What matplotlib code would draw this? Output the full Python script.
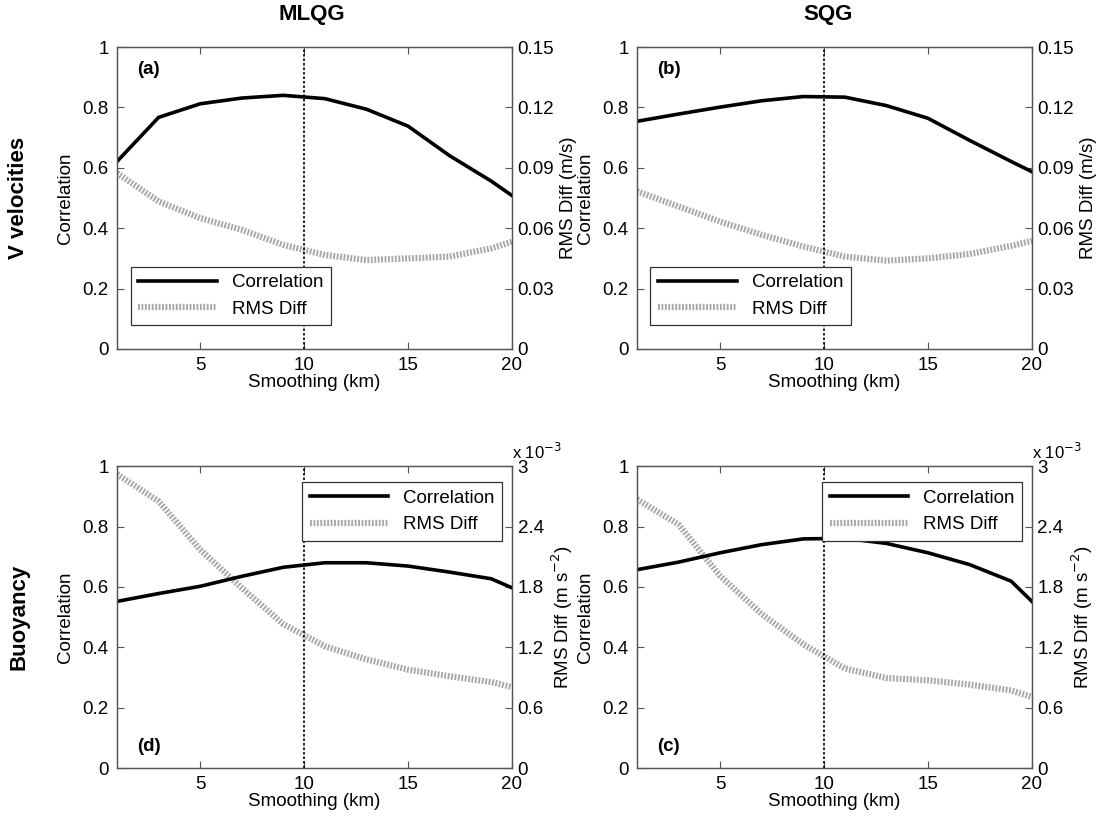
import numpy as np
import matplotlib.pyplot as plt

plt.rcParams['font.family'] = ['Liberation Sans', 'DejaVu Sans']

# smoothing scale (km)
smoothing = [1, 3, 5, 7, 9, 11, 13, 15, 17, 19, 20]

# (a) MLQG, V velocities
corr_a = [0.621, 0.767, 0.812, 0.831, 0.840, 0.829, 0.794, 0.738, 0.640, 0.556, 0.508]
rms_a = [0.0874, 0.0733, 0.0650, 0.0592, 0.0517, 0.0467, 0.0442, 0.0450, 0.0459, 0.0500, 0.0533]

# (b) SQG, V velocities
corr_b = [0.754, 0.778, 0.801, 0.822, 0.836, 0.834, 0.806, 0.764, 0.691, 0.621, 0.587]
rms_b = [0.0783, 0.0708, 0.0633, 0.0567, 0.0509, 0.0459, 0.0439, 0.0450, 0.0472, 0.0512, 0.0537]

# (d) MLQG, buoyancy  (rms in units of 1e-3 m s^-2)
corr_d = [0.552, 0.578, 0.602, 0.635, 0.665, 0.680, 0.680, 0.669, 0.649, 0.627, 0.597]
rms_d = [2.92, 2.65, 2.17, 1.79, 1.43, 1.21, 1.08, 0.978, 0.912, 0.855, 0.805]

# (c) SQG, buoyancy  (rms in units of 1e-3 m s^-2)
corr_c = [0.657, 0.682, 0.713, 0.740, 0.759, 0.761, 0.744, 0.713, 0.674, 0.619, 0.552]
rms_c = [2.67, 2.42, 1.91, 1.53, 1.23, 0.99, 0.895, 0.872, 0.829, 0.772, 0.706]

rms_ticks_v = [0, 0.03, 0.06, 0.09, 0.12, 0.15]
rms_ticks_b = [0, 0.6, 1.2, 1.8, 2.4, 3]

fig = plt.figure(figsize=(11.02, 8.25), dpi=100)

W = 0.3584
H = 0.366
pos = {
    'a': [0.1062, 0.577, W, H],
    'b': [0.578, 0.577, W, H],
    'd': [0.1062, 0.069, W, H],
    'c': [0.578, 0.069, W, H],
}

FS = 13.5
gray = '#a8a8a8'
spine_col = '#555555'


def panel(key, corr, rms, rms_ticks, rms_lim, rlabel, legend_loc, exp_label):
    ax = fig.add_axes(pos[key])
    ax2 = ax.twinx()
    ax.set_zorder(2)
    ax.patch.set_visible(False)

    l2, = ax2.plot(smoothing, rms, color=gray, lw=4.5,
                   linestyle=(0, (0.3, 0.25)), solid_capstyle='butt')
    l1, = ax.plot(smoothing, corr, color='black', lw=2.6)
    ax.axvline(10, color='black', lw=1.2, linestyle=(0, (1.5, 1.2)))

    ax.set_xlim(1, 20)
    ax.set_ylim(0, 1)
    ax.set_xticks([5, 10, 15, 20])
    ax.set_yticks([0, 0.2, 0.4, 0.6, 0.8, 1])
    ax.set_yticklabels(['0', '0.2', '0.4', '0.6', '0.8', '1'])
    ax2.set_ylim(*rms_lim)
    ax2.set_yticks(rms_ticks)
    ax2.set_yticklabels([f'{t:g}' for t in rms_ticks])

    ax.tick_params(direction='in', top=True, right=False, labelsize=FS,
                   length=5, color=spine_col, pad=6)
    ax2.tick_params(direction='in', labelsize=FS, length=5, color=spine_col, pad=4)
    for a in (ax, ax2):
        for s in a.spines.values():
            s.set_color(spine_col)
            s.set_linewidth(0.9)

    ax.set_xlabel('Smoothing (km)', fontsize=FS, labelpad=0)
    ax.set_ylabel('Correlation', fontsize=FS, labelpad=6)
    ax2.set_ylabel(rlabel, fontsize=FS, labelpad=4)

    if legend_loc == 'lower left':
        leg = ax.legend([l1, l2], ['Correlation', 'RMS Diff'], loc='lower left',
                        bbox_to_anchor=(0.02, 0.06), fontsize=FS, handlelength=4.2,
                        fancybox=False, framealpha=1, borderaxespad=0.3)
        ax.text(0.05, 0.925, f'({key})', transform=ax.transAxes, fontsize=FS,
                fontweight='bold', va='center', ha='left')
    else:
        leg = ax.legend([l1, l2], ['Correlation', 'RMS Diff'], loc='upper right',
                        bbox_to_anchor=(0.99, 0.965), fontsize=FS, handlelength=4.2,
                        fancybox=False, framealpha=1, borderaxespad=0.3)
        ax.text(0.05, 0.07, f'({key})', transform=ax.transAxes, fontsize=FS,
                fontweight='bold', va='center', ha='left')
    leg.get_frame().set_edgecolor('#333333')
    leg.get_frame().set_linewidth(0.9)

    if exp_label:
        ax2.text(1.0, 1.015, r'x 10$^{-3}$', transform=ax2.transAxes, fontsize=12,
                 ha='left', va='bottom')
    return ax


panel('a', corr_a, rms_a, rms_ticks_v, (0, 0.15), 'RMS Diff (m/s)', 'lower left', False)
panel('b', corr_b, rms_b, rms_ticks_v, (0, 0.15), 'RMS Diff (m/s)', 'lower left', False)
panel('d', corr_d, rms_d, rms_ticks_b, (0, 3), r'RMS Diff (m s$^{-2}$)', 'upper right', True)
panel('c', corr_c, rms_c, rms_ticks_b, (0, 3), r'RMS Diff (m s$^{-2}$)', 'upper right', True)

fig.text(0.283, 0.982, 'MLQG', fontsize=16, fontweight='bold', ha='center', va='center')
fig.text(0.751, 0.982, 'SQG', fontsize=16, fontweight='bold', ha='center', va='center')
fig.text(0.017, 0.76, 'V velocities', fontsize=16, fontweight='bold', rotation=90,
         ha='center', va='center')
fig.text(0.017, 0.252, 'Buoyancy', fontsize=16, fontweight='bold', rotation=90,
         ha='center', va='center')

fig.savefig('out.png', dpi=100)
